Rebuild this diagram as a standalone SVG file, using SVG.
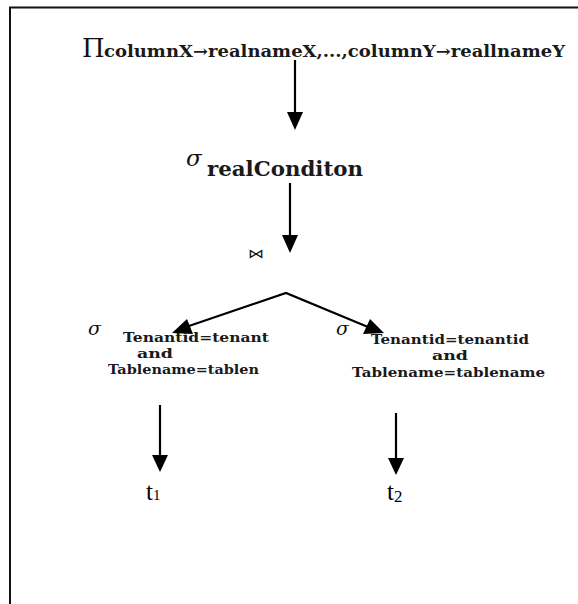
<svg xmlns="http://www.w3.org/2000/svg" width="578" height="604" viewBox="0 0 578 604">
<defs>
<style>
.ln{stroke:#000;stroke-width:2.2;fill:none}
.arr{stroke:#000;stroke-width:2.2;fill:none}
.sym{font-family:"DejaVu Serif","Liberation Serif",serif;fill:#111}
.sub{font-family:"DejaVu Serif","Liberation Serif",serif;fill:#1a1a1a;font-weight:bold}
.tn{font-family:"Liberation Serif","Times New Roman",serif;fill:#000}
</style>
</defs>
<rect width="578" height="604" fill="#fff"/>
<path d="M10,604 L10,7.5 L578,7.5" stroke="#111" stroke-width="2" fill="none"/>
<g id="connectors">
<line class="arr" x1="295" y1="60" x2="295" y2="112"/>
<polygon points="287,112 303,112 295,130"/>
<line class="arr" x1="290" y1="183" x2="290" y2="235"/>
<polygon points="282,235 298,235 290,253"/>
<polyline class="ln" points="186,327 286,293 368,327"/>
<polygon points="172,333 187,319 193,334"/>
<polygon points="384,333 363,334 370,319"/>
<line class="arr" x1="160" y1="405" x2="160" y2="455"/>
<polygon points="152,455 168,455 160,472"/>
<line class="arr" x1="396" y1="413" x2="396" y2="458"/>
<polygon points="388,458 404,458 396,475"/>
</g>
<g id="project">
<text class="sym" x="82" y="57" font-size="26">Π</text>
<text class="sub" x="104" y="57" font-size="16" textLength="461" lengthAdjust="spacingAndGlyphs">columnX→realnameX,...,columnY→reallnameY</text>
</g>
<g id="select-real">
<text class="sym" x="186" y="166" font-size="23" font-style="italic">σ</text>
<text class="sub" x="207" y="176" font-size="20" textLength="156" lengthAdjust="spacingAndGlyphs">realConditon</text>
</g>
<g id="join">
<text class="sym" x="248" y="258" font-size="13" textLength="16" lengthAdjust="spacingAndGlyphs">⋈</text>
</g>
<g id="select-left">
<text class="sym" x="88" y="335" font-size="19" font-style="italic">σ</text>
<text class="sub" x="123" y="342" font-size="13" textLength="146" lengthAdjust="spacingAndGlyphs">Tenantid=tenant</text>
<text class="sub" x="155" y="358" font-size="13" text-anchor="middle" textLength="36" lengthAdjust="spacingAndGlyphs">and</text>
<text class="sub" x="108" y="374" font-size="13" textLength="151" lengthAdjust="spacingAndGlyphs">Tablename=tablen</text>
</g>
<g id="select-right">
<text class="sym" x="336" y="335" font-size="19" font-style="italic">σ</text>
<text class="sub" x="371" y="344" font-size="13" textLength="158" lengthAdjust="spacingAndGlyphs">Tenantid=tenantid</text>
<text class="sub" x="450" y="360" font-size="13" text-anchor="middle" textLength="36" lengthAdjust="spacingAndGlyphs">and</text>
<text class="sub" x="352" y="377" font-size="13" textLength="193" lengthAdjust="spacingAndGlyphs">Tablename=tablename</text>
</g>
<g id="t1">
<text class="tn" x="146" y="500" font-size="25">t<tspan font-size="15">1</tspan></text>
</g>
<g id="t2">
<text class="tn" x="387" y="500" font-size="25">t<tspan font-size="17" dy="2">2</tspan></text>
</g>
</svg>
